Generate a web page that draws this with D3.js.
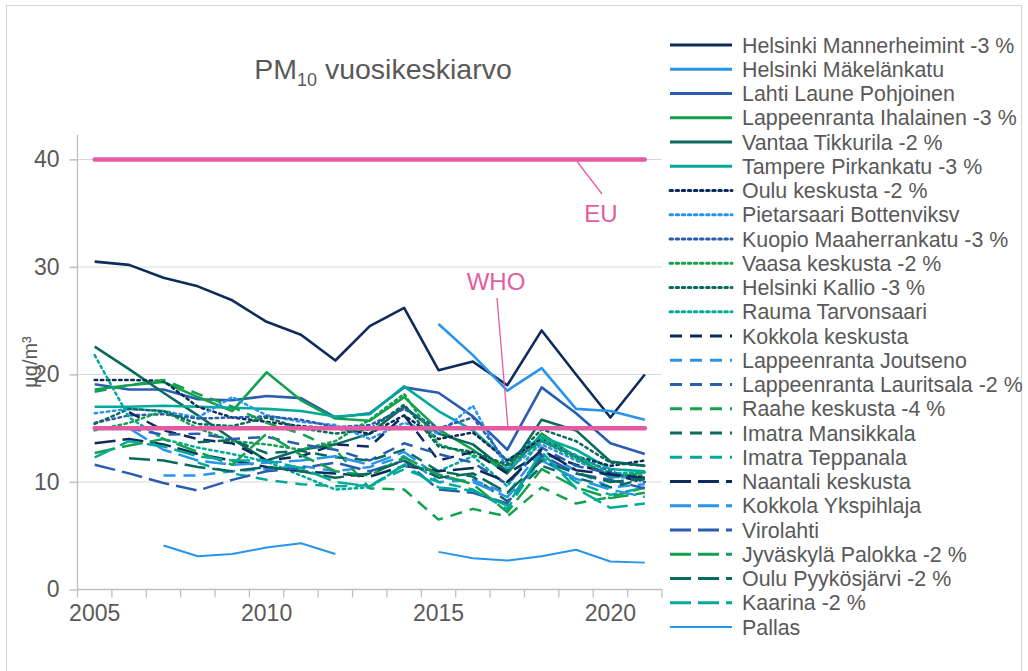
<!DOCTYPE html>
<html>
<head>
<meta charset="utf-8">
<script src="https://cdn.jsdelivr.net/npm/d3@7"></script>
<style>
  body { margin: 0; background: #fff; }
  text { font-family: "Liberation Sans", Arial, sans-serif; fill: #595959; }
</style>
</head>
<body>
<div id="chart"></div>
<script>
// categories
const years = d3.range(2005, 2022);
const xTickLabels = [2005, 2010, 2015, 2020];
const yTicks = [0, 10, 20, 30, 40];

// limit values
const euLimit = 40;
const whoLimit = 15;

// series names (legend order)
const names = [
  "Helsinki Mannerheimint -3 %", "Helsinki Mäkelänkatu", "Lahti Laune Pohjoinen",
  "Lappeenranta Ihalainen -3 %", "Vantaa Tikkurila -2 %", "Tampere Pirkankatu -3 %",
  "Oulu keskusta -2 %", "Pietarsaari Bottenviksv", "Kuopio Maaherrankatu -3 %",
  "Vaasa keskusta -2 %", "Helsinki Kallio -3 %", "Rauma Tarvonsaari",
  "Kokkola keskusta", "Lappeenranta Joutseno", "Lappeenranta Lauritsala -2 %",
  "Raahe keskusta -4 %", "Imatra Mansikkala", "Imatra Teppanala",
  "Naantali keskusta", "Kokkola Ykspihlaja", "Virolahti",
  "Jyväskylä Palokka -2 %", "Oulu Pyykösjärvi -2 %", "Kaarina -2 %", "Pallas"
];

// yearly values 2005..2021, null = no measurement
const mannerheimint = [30.5, 30.2, 29.0, 28.2, 26.9, 24.9, 23.7, 21.3, 24.5, 26.2, 20.4, 21.2, 19.0, 24.1, 20.0, 16.0, 20.0];
const makelankatu   = [null, null, null, null, null, null, null, null, null, null, 24.7, 21.8, 18.5, 20.6, 16.8, 16.6, 15.8];
const lahti         = [19.1, 18.6, 18.6, 17.7, 17.6, 18.0, 17.8, 16.0, 16.4, 18.8, 18.3, 16.1, 13.0, 18.8, 16.4, 13.6, 12.6];
const ihalainen     = [18.6, 19.0, 19.3, 17.9, 16.6, 20.2, 17.6, 15.9, 15.7, 17.9, 14.9, 13.0, 10.8, 14.5, 12.3, 10.4, 10.9];
const tikkurila     = [22.6, 20.5, 18.3, 16.2, 14.0, 12.0, 13.0, 13.5, 14.5, 17.0, 14.5, 13.5, 11.0, 15.8, 14.8, 11.9, 11.5];
const pirkankatu    = [17.0, 17.0, 17.1, 17.0, 16.9, 16.8, 16.6, 16.1, 16.3, 18.9, 16.6, 14.8, 12.0, 14.2, 13.0, 11.2, 11.0];
const ouluKeskusta  = [19.5, 19.5, 19.4, 17.0, 16.0, 15.6, 15.2, 15.0, 14.5, 16.2, 14.0, 14.6, 12.0, 14.0, 12.4, 11.5, 12.0];
const pietarsaari   = [16.4, 16.8, 16.6, 16.0, 17.9, 16.2, 15.6, 15.3, 14.0, 15.5, 14.5, 17.1, 11.2, 13.5, 12.0, 10.5, 10.3];
const kuopio        = [15.5, 16.2, 16.3, 15.9, 16.0, 16.1, 15.8, 15.1, 15.3, 16.8, 15.0, 16.0, 11.8, 13.8, 12.4, 11.0, 10.0];
const vaasa         = [14.8, 15.5, 16.6, 15.0, 13.8, 13.5, 13.0, 13.8, 15.8, 18.2, 13.5, 12.5, 11.5, 13.8, 12.2, 10.6, 10.6];
const kallio        = [15.4, 16.8, 16.6, 15.4, 15.2, 16.0, 15.0, 14.5, 14.9, 17.2, 13.3, 12.8, 11.6, 14.9, 13.8, 11.8, 11.5];
const rauma         = [21.8, 16.0, 14.0, 13.2, 12.6, 11.9, 10.6, 9.3, 9.5, 11.6, 11.0, 12.4, 9.6, 14.0, 12.5, 10.8, 10.9];
const kokkola       = [null, 16.5, 14.8, 14.0, 13.6, 12.0, 12.4, 13.5, 13.3, 16.2, 12.0, 12.8, 10.8, 12.7, 11.6, 10.8, 9.9];
const joutseno      = [null, null, 10.6, 10.6, 11.0, 11.2, 11.5, 11.0, 11.4, 12.4, 10.0, 10.2, 8.9, 13.0, 11.0, 9.5, 9.8];
const lauritsala    = [null, 15.0, 14.4, 14.5, 14.0, 14.2, 13.5, 13.0, 12.0, 13.6, 12.6, 11.8, 9.8, 13.2, 11.5, 10.8, 10.2];
const raahe         = [18.4, 19.0, 19.5, 18.2, 17.0, 15.5, 14.5, 13.0, 9.4, 9.3, 6.5, 7.5, 6.8, 9.5, 8.0, 8.6, 9.5];
const mansikkala    = [null, null, null, 13.7, 13.9, 12.7, 12.9, 12.3, 12.0, 13.0, 11.0, 10.5, 8.2, 11.5, 10.4, 9.5, 10.3];
const teppanala     = [null, null, null, 11.8, 10.8, 10.2, 9.8, 9.6, 9.7, 11.2, 10.0, 9.3, 7.5, 12.3, 10.0, 8.8, 9.5];
const naantali      = [13.6, 14.0, 13.5, 12.6, 12.0, 11.4, 11.0, 10.8, 10.5, 11.5, 11.0, 11.3, 10.0, 13.0, 11.1, 10.7, 10.4];
const ykspihlaja    = [null, 15.0, 13.0, 12.0, 11.6, 11.8, 12.0, 12.4, 11.6, 12.8, 10.5, 10.0, 8.6, 12.0, 10.3, 9.3, 8.6];
const virolahti     = [11.6, 10.8, 9.9, 9.2, 10.2, 11.0, 11.3, 11.8, 11.0, 12.0, 9.3, 9.0, 8.0, 12.5, 10.8, 10.2, 9.4];
const palokka       = [12.7, 13.4, 14.0, 12.8, 11.6, 14.5, 12.5, 11.0, 10.6, 12.3, 10.7, 9.8, 7.2, 11.2, 9.5, 8.5, 9.0];
const pyykosjarvi   = [null, 12.2, 12.0, 11.4, 11.0, 11.4, 11.0, 10.4, 10.8, 12.0, 10.4, 10.8, 9.0, 12.0, 10.8, 10.0, 10.3];
const kaarina       = [12.3, 13.8, 13.3, 12.4, 12.0, 12.0, 11.3, 10.0, 9.6, 11.6, 9.5, 9.2, 7.8, 12.8, 9.4, 7.6, 8.0];
const pallas        = [null, null, 4.1, 3.1, 3.3, 3.9, 4.3, 3.3, null, null, 3.5, 2.9, 2.7, 3.1, 3.7, 2.6, 2.5];

const seriesValues = [
  mannerheimint, makelankatu, lahti, ihalainen, tikkurila, pirkankatu,
  ouluKeskusta, pietarsaari, kuopio, vaasa, kallio, rauma,
  kokkola, joutseno, lauritsala, raahe, mansikkala, teppanala,
  naantali, ykspihlaja, virolahti, palokka, pyykosjarvi, kaarina, pallas
];

// styles: six colours repeated with four line patterns
const palette = ["#0d2c5c", "#2894ea", "#2a5db0", "#13a150", "#0a6a5c", "#00aa9a"];
const dashes = [null, "2.5 3.6", "12 8", "21 7"];
const seriesStyle = (i) => i === 24
  ? { color: "#2894ea", dash: null, width: 2 }
  : { color: palette[i % 6], dash: dashes[Math.floor(i / 6)], width: i < 6 ? 2.6 : 2.5 };

const pink = "#e35ba2";

const svg = d3.select("#chart")
  .append("svg")
  .attr("width", 1028)
  .attr("height", 671);

// outer frame
svg.append("rect")
  .attr("x", 6.5).attr("y", 5.5)
  .attr("width", 1015).attr("height", 700)
  .attr("fill", "none")
  .attr("stroke", "#d4d4d4");

// scales
const x = d3.scaleBand().domain(years).range([77.5, 662]);
const y = d3.scaleLinear().domain([0, 40]).range([589.5, 159.5]);
const cx = d => x(d) + x.bandwidth() / 2;

// gridlines
svg.append("g")
  .selectAll("line")
  .data(yTicks.filter(t => t > 0))
  .join("line")
  .attr("x1", 70).attr("x2", 662)
  .attr("y1", d => y(d)).attr("y2", d => y(d))
  .attr("stroke", "#d9d9d9")
  .attr("stroke-width", 1.2);

// y axis
const yAxis = svg.append("g")
  .attr("transform", "translate(77.5,0)")
  .call(d3.axisLeft(y).tickValues(yTicks).tickSize(8).tickPadding(10).tickSizeOuter(0));
yAxis.select(".domain").attr("d", `M0,${y(0)}V${y(42.3)}`);

// x axis: ticks between categories, labels every 5 years
const xAxis = svg.append("g")
  .attr("transform", `translate(0,${y(0)})`);
xAxis.append("line")
  .attr("x1", 77.5).attr("x2", 662)
  .attr("stroke", "#bfbfbf").attr("stroke-width", 1.3);
xAxis.selectAll(".tk")
  .data(years.concat([2022]))
  .join("line")
  .attr("class", "tk")
  .attr("x1", d => d === 2022 ? 662 : x(d)).attr("x2", d => d === 2022 ? 662 : x(d))
  .attr("y1", 0).attr("y2", 8)
  .attr("stroke", "#bfbfbf").attr("stroke-width", 1.3);
xAxis.selectAll(".lbl")
  .data(xTickLabels)
  .join("text")
  .attr("class", "lbl")
  .attr("x", d => cx(d))
  .attr("y", 31)
  .attr("text-anchor", "middle")
  .style("font-size", "23px")
  .text(d => d);

yAxis.selectAll("path, line").attr("stroke", "#bfbfbf").attr("stroke-width", 1.3);
yAxis.selectAll("text").style("font-size", "23px").style("fill", "#595959").attr("font-family", null);

// y axis title
svg.append("text")
  .attr("transform", "translate(37,362) rotate(-90)")
  .attr("text-anchor", "middle")
  .style("font-size", "20px")
  .text("µg/m³");

// title
const title = svg.append("text")
  .attr("x", 383).attr("y", 79)
  .attr("text-anchor", "middle")
  .style("font-size", "28.5px");
title.append("tspan").text("PM");
title.append("tspan").attr("dy", 7).style("font-size", "18px").text("10");
title.append("tspan").attr("dy", -7).text(" vuosikeskiarvo");

// series lines
const line = d3.line()
  .defined(d => d.v !== null)
  .x(d => cx(d.year))
  .y(d => y(d.v));

const plot = svg.append("g");
seriesValues.forEach((vals, i) => {
  const st = seriesStyle(i);
  plot.append("path")
    .datum(years.map((yr, j) => ({ year: yr, v: vals[j] })))
    .attr("d", line)
    .attr("fill", "none")
    .attr("stroke", st.color)
    .attr("stroke-width", st.width)
    .attr("stroke-dasharray", st.dash)
    .attr("stroke-linecap", st.dash && st.dash.startsWith("2.5") ? "round" : "butt")
    .attr("stroke-linejoin", "round");
});

// limit lines
[euLimit, whoLimit].forEach(v => {
  svg.append("line")
    .attr("x1", cx(2005)).attr("x2", cx(2021))
    .attr("y1", y(v)).attr("y2", y(v))
    .attr("stroke", pink)
    .attr("stroke-width", 4.5)
    .attr("stroke-linecap", "round");
});

// EU label
svg.append("line")
  .attr("x1", 577).attr("y1", y(euLimit) + 2)
  .attr("x2", 602).attr("y2", 194)
  .attr("stroke", pink).attr("stroke-width", 1.3);
svg.append("text")
  .attr("x", 601).attr("y", 222)
  .attr("text-anchor", "middle")
  .style("font-size", "24px").style("fill", pink)
  .text("EU");

// WHO label
svg.append("line")
  .attr("x1", 497).attr("y1", 298)
  .attr("x2", 508).attr("y2", y(whoLimit))
  .attr("stroke", pink).attr("stroke-width", 1.3);
svg.append("text")
  .attr("x", 496).attr("y", 290)
  .attr("text-anchor", "middle")
  .style("font-size", "24px").style("fill", pink)
  .text("WHO");

// legend
const legend = svg.append("g");
names.forEach((name, i) => {
  const st = seriesStyle(i);
  const ly = 45 + i * 24.25;
  legend.append("line")
    .attr("x1", 670).attr("x2", 732)
    .attr("y1", ly).attr("y2", ly)
    .attr("stroke", st.color)
    .attr("stroke-width", i === 24 ? 2 : 3)
    .attr("stroke-dasharray", st.dash)
    .attr("stroke-linecap", st.dash && st.dash.startsWith("2.5") ? "round" : "butt");
  legend.append("text")
    .attr("x", 742).attr("y", ly)
    .attr("dy", "0.36em")
    .style("font-size", "21.4px")
    .text(name);
});
</script>
</body>
</html>
